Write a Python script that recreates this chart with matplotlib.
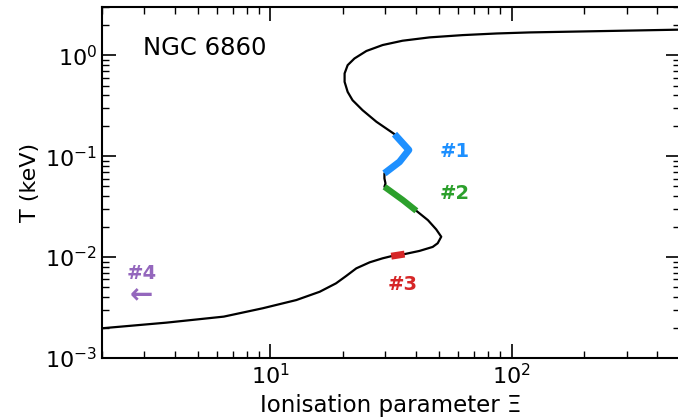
import matplotlib
matplotlib.use("Agg")
import matplotlib.pyplot as plt

# Stability curve (ionisation parameter Xi vs temperature T in keV)
curve_xi = [2.0, 3.70, 6.40, 9.29, 12.8, 16.0, 18.7, 20.6, 22.7, 25.8, 29.2, 31.7, 36.0,
            41.5, 47.1, 49.4, 51.1, 48.7, 45.0, 40.3, 35.4, 29.7, 30.0, 29.7, 29.7, 34.3,
            37.5, 32.7, 27.5, 24.1, 21.9, 20.9, 20.3, 20.3, 20.9, 22.3, 25.0, 29.2, 35.3,
            45.7, 62.7, 86.7, 118.9, 232.0, 500.0]
curve_T = [1.97e-3, 2.24e-3, 2.57e-3, 3.11e-3, 3.75e-3, 4.53e-3, 5.49e-3, 6.49e-3, 7.73e-3,
           8.87e-3, 9.72e-3, 1.02e-2, 1.07e-2, 1.15e-2, 1.26e-2, 1.37e-2, 1.59e-2, 1.88e-2,
           2.32e-2, 2.87e-2, 3.67e-2, 4.97e-2, 5.37e-2, 6.01e-2, 6.75e-2, 8.77e-2, 0.115,
           0.165, 0.219, 0.285, 0.358, 0.433, 0.544, 0.659, 0.796, 0.927, 1.10, 1.26, 1.39,
           1.50, 1.58, 1.64, 1.68, 1.73, 1.79]

# Highlighted components
seg1_xi = [29.7, 34.3, 37.5, 32.7]
seg1_T = [6.75e-2, 8.77e-2, 0.115, 0.165]
seg2_xi = [29.7, 35.4, 40.3]
seg2_T = [4.97e-2, 3.67e-2, 2.87e-2]
seg3_xi = [31.7, 36.0]
seg3_T = [1.02e-2, 1.07e-2]

labels = ["#1", "#2", "#3", "#4"]
label_xi = [58.0, 58.0, 35.3, 2.92]
label_T = [0.11, 0.043, 5.3e-3, 6.95e-3]
colors = ["#1e90ff", "#2ca02c", "#d62728", "#9467bd"]
arrow_xi = 2.92
arrow_T = 4.15e-3

plt.rcParams['font.family'] = ['DejaVu Sans']
fig = plt.figure(figsize=(6.78, 4.19), dpi=100)
ax = fig.add_axes([102/678, 1-358/419, 578/678, 351/419])

ax.plot(curve_xi, curve_T, color='black', lw=1.6, zorder=2)
ax.plot(seg1_xi, seg1_T, color=colors[0], lw=5.0, solid_capstyle='butt',
        solid_joinstyle='round', zorder=3)
ax.plot(seg2_xi, seg2_T, color=colors[1], lw=4.5, solid_capstyle='butt', zorder=3)
ax.plot(seg3_xi, seg3_T, color=colors[2], lw=5.0, solid_capstyle='butt', zorder=3)

for lab, x, y, c in zip(labels, label_xi, label_T, colors):
    ax.text(x, y, lab, color=c, fontsize=14, fontweight='bold', ha='center', va='center')
ax.text(arrow_xi, arrow_T, "←", color=colors[3], fontsize=20, fontweight='bold',
        ha='center', va='center')

ax.text(0.071, 0.883, "NGC 6860", transform=ax.transAxes, fontsize=17.5,
        ha='left', va='center')

ax.set_xscale('log')
ax.set_yscale('log')
ax.set_xlim(2, 500)
ax.set_ylim(1e-3, 3)
ax.set_xlabel("Ionisation parameter Ξ", fontsize=16.5)
ax.set_ylabel("T (keV)", fontsize=16)
ax.tick_params(which='both', direction='in', top=True, right=True, labelsize=16)
ax.tick_params(which='major', length=10, width=1.2)
ax.tick_params(which='minor', length=5, width=1.0)
for s in ax.spines.values():
    s.set_linewidth(1.5)

fig.savefig("out.png", dpi=100)
